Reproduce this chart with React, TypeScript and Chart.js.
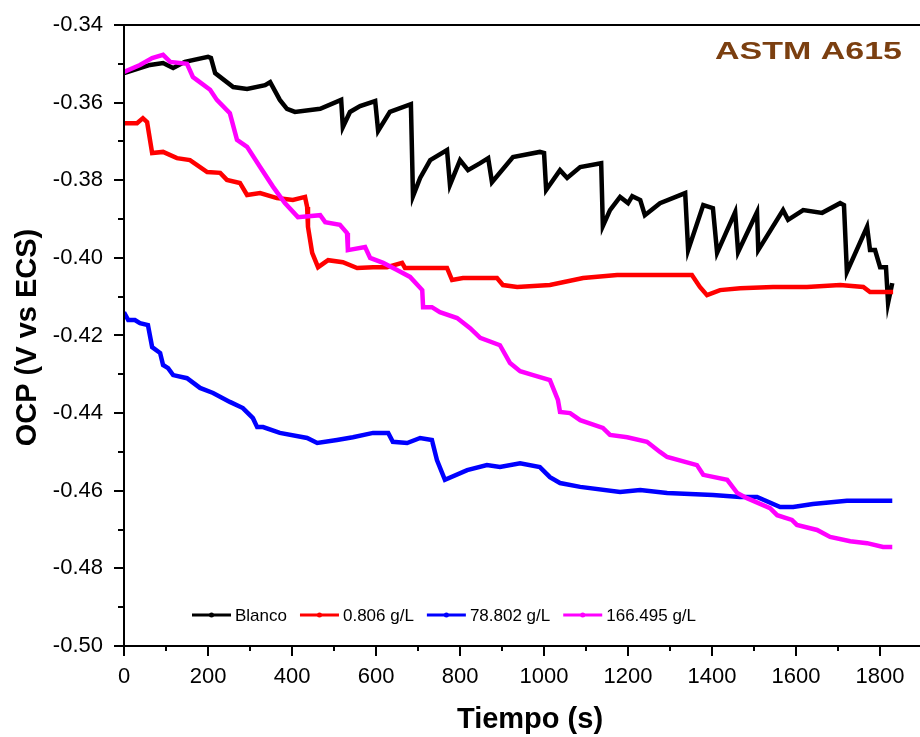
import { useEffect, useRef } from "react";
import { Chart, registerables } from "chart.js";

Chart.register(...registerables);

const FONT = "'Liberation Sans', Arial, Helvetica, sans-serif";

// Axis ranges and tick marks
const X_MIN = 0;
const X_MAX = 1895;
const Y_MIN = -0.5;
const Y_MAX = -0.34;
const X_TICKS = [0, 200, 400, 600, 800, 1000, 1200, 1400, 1600, 1800];
const Y_TICKS = [-0.5, -0.48, -0.46, -0.44, -0.42, -0.4, -0.38, -0.36, -0.34];

const X_TITLE = "Tiempo (s)";
const Y_TITLE = "OCP (V vs ECS)";
const TAG = "ASTM A615";

const SERIES_LABELS = ["Blanco", "0.806 g/L", "78.802 g/L", "166.495 g/L"];
const SERIES_COLORS = ["#000000", "#ff0000", "#0000ff", "#ff00ff"];

// Blanco (time in s, potential in V)
const BLANCO_T = [0, 62, 93, 117, 145, 200, 207, 217, 260, 293, 336, 348, 371, 388, 407, 467, 517, 521, 538, 562, 598, 605, 633, 683, 688, 705, 729, 769, 776, 800, 819, 848, 867, 876, 926, 990, 1000, 1005, 1038, 1055, 1086, 1136, 1140, 1157, 1181, 1200, 1210, 1229, 1240, 1276, 1336, 1343, 1379, 1402, 1412, 1455, 1462, 1507, 1510, 1569, 1581, 1617, 1662, 1705, 1714, 1721, 1769, 1776, 1788, 1800, 1814, 1819, 1829];
const BLANCO_V = [-0.3524, -0.3503, -0.3498, -0.3511, -0.3495, -0.3482, -0.3485, -0.3524, -0.356, -0.3565, -0.3555, -0.3547, -0.3593, -0.3616, -0.3624, -0.3616, -0.3593, -0.3663, -0.3624, -0.3609, -0.3596, -0.3673, -0.3624, -0.3604, -0.3841, -0.3794, -0.3748, -0.3722, -0.3812, -0.3748, -0.3774, -0.3756, -0.3743, -0.3805, -0.374, -0.3727, -0.373, -0.3825, -0.3774, -0.3794, -0.3766, -0.3756, -0.3918, -0.3877, -0.3843, -0.3859, -0.3841, -0.3851, -0.389, -0.3859, -0.3833, -0.398, -0.3864, -0.3872, -0.3987, -0.3882, -0.3985, -0.3882, -0.398, -0.3877, -0.3902, -0.3877, -0.3884, -0.3859, -0.3864, -0.4036, -0.392, -0.398, -0.398, -0.4024, -0.4024, -0.4116, -0.4065];

// 0.806 g/L
const C1_T = [0, 31, 45, 55, 67, 93, 126, 157, 198, 229, 245, 276, 293, 324, 364, 402, 431, 436, 438, 448, 462, 486, 521, 555, 593, 626, 662, 669, 729, 769, 781, 807, 888, 902, 936, 1014, 1093, 1174, 1352, 1371, 1388, 1419, 1467, 1545, 1626, 1705, 1760, 1776, 1831];
const C1_V = [-0.3653, -0.3653, -0.364, -0.365, -0.373, -0.3727, -0.3743, -0.3748, -0.3779, -0.3781, -0.3799, -0.3807, -0.3838, -0.3833, -0.3846, -0.3851, -0.3843, -0.3869, -0.392, -0.3987, -0.4024, -0.4006, -0.4011, -0.4026, -0.4024, -0.4024, -0.4013, -0.4026, -0.4026, -0.4026, -0.4057, -0.4052, -0.4052, -0.407, -0.4075, -0.407, -0.4052, -0.4044, -0.4044, -0.4075, -0.4096, -0.4083, -0.4078, -0.4075, -0.4075, -0.407, -0.4075, -0.4088, -0.4088];

// 78.802 g/L
const C2_T = [0, 10, 26, 38, 57, 67, 86, 93, 105, 117, 150, 181, 212, 252, 283, 307, 317, 331, 371, 436, 460, 507, 545, 593, 629, 640, 674, 705, 733, 745, 764, 817, 864, 895, 943, 990, 1014, 1038, 1086, 1181, 1229, 1293, 1402, 1467, 1507, 1562, 1593, 1640, 1721, 1829];
const C2_V = [-0.414, -0.416, -0.416, -0.4168, -0.4173, -0.423, -0.4245, -0.4276, -0.4284, -0.4302, -0.431, -0.4335, -0.4348, -0.4371, -0.4387, -0.4413, -0.4436, -0.4436, -0.4451, -0.4464, -0.4477, -0.4469, -0.4462, -0.4451, -0.4451, -0.4474, -0.4477, -0.4464, -0.4469, -0.4521, -0.4572, -0.4547, -0.4534, -0.4539, -0.4529, -0.4539, -0.4565, -0.458, -0.459, -0.4603, -0.4598, -0.4606, -0.4611, -0.4616, -0.4616, -0.4642, -0.4642, -0.4634, -0.4626, -0.4626];

// 166.495 g/L
const C3_T = [0, 38, 67, 93, 110, 150, 164, 174, 205, 221, 252, 269, 293, 324, 355, 383, 414, 467, 479, 514, 531, 533, 574, 586, 617, 650, 681, 710, 712, 733, 752, 793, 824, 848, 895, 919, 943, 974, 1014, 1033, 1038, 1062, 1086, 1140, 1157, 1198, 1245, 1276, 1293, 1364, 1379, 1436, 1460, 1483, 1538, 1555, 1590, 1602, 1650, 1681, 1729, 1769, 1807, 1829];
const C3_V = [-0.3521, -0.3503, -0.3485, -0.3477, -0.3495, -0.35, -0.3534, -0.3542, -0.3567, -0.3593, -0.3627, -0.3696, -0.3714, -0.3766, -0.3817, -0.3859, -0.3895, -0.389, -0.3908, -0.3915, -0.3936, -0.398, -0.3972, -0.4, -0.4013, -0.4031, -0.4049, -0.4083, -0.4127, -0.4127, -0.414, -0.4155, -0.4181, -0.4206, -0.4225, -0.4271, -0.4292, -0.4302, -0.4315, -0.4366, -0.4397, -0.44, -0.4418, -0.4438, -0.4456, -0.4462, -0.4474, -0.45, -0.4513, -0.4534, -0.4559, -0.4572, -0.4606, -0.4619, -0.4645, -0.4663, -0.4675, -0.4688, -0.4701, -0.4719, -0.473, -0.4735, -0.4745, -0.4745];

const SERIES_T = [BLANCO_T, C1_T, C2_T, C3_T];
const SERIES_V = [BLANCO_V, C1_V, C2_V, C3_V];
// later series are painted on top
const SERIES_ORDER = [3, 2, 1, 0];

const zip = (t: number[], v: number[]) => t.map((x, i) => ({ x, y: v[i] }));

const midpoints = (ticks: number[]) =>
  ticks.slice(0, -1).map((v, i) => (v + ticks[i + 1]) / 2);

// Frame, tick marks, titles, legend and label tag
const decorPlugin = {
  id: "decor",
  afterDraw(chart: any) {
    const { ctx, chartArea: a, scales } = chart;
    const xs = scales.x;
    const ys = scales.y;
    ctx.save();
    ctx.strokeStyle = "#000";
    ctx.lineWidth = 2;
    ctx.lineCap = "butt";

    ctx.beginPath();
    ctx.moveTo(a.left, a.top);
    ctx.lineTo(a.right, a.top);
    ctx.moveTo(a.left, a.top - 1);
    ctx.lineTo(a.left, a.bottom + 1);
    ctx.moveTo(a.left - 1, a.bottom);
    ctx.lineTo(a.right, a.bottom);
    ctx.stroke();

    // x ticks
    ctx.beginPath();
    X_TICKS.forEach((v) => {
      const px = Math.round(xs.getPixelForValue(v));
      ctx.moveTo(px, a.bottom);
      ctx.lineTo(px, a.bottom + 10);
    });
    midpoints([...X_TICKS, 2000]).forEach((v) => {
      if (v > X_MAX) return;
      const px = Math.round(xs.getPixelForValue(v));
      ctx.moveTo(px, a.bottom);
      ctx.lineTo(px, a.bottom + 5);
    });
    // y ticks
    Y_TICKS.forEach((v) => {
      const py = Math.round(ys.getPixelForValue(v));
      ctx.moveTo(a.left, py);
      ctx.lineTo(a.left - 10, py);
    });
    midpoints(Y_TICKS).forEach((v) => {
      const py = Math.round(ys.getPixelForValue(v));
      ctx.moveTo(a.left, py);
      ctx.lineTo(a.left - 6, py);
    });
    ctx.stroke();

    // axis titles
    ctx.fillStyle = "#000";
    ctx.font = `bold 29px ${FONT}`;
    ctx.textAlign = "center";
    ctx.textBaseline = "middle";
    ctx.fillText(X_TITLE, (a.left + a.right) / 2 + 8, 720);
    ctx.save();
    ctx.translate(28, (a.top + a.bottom) / 2 + 2);
    ctx.rotate(-Math.PI / 2);
    ctx.fillText(Y_TITLE, 0, 0);
    ctx.restore();

    // legend
    ctx.font = `17px ${FONT}`;
    ctx.textAlign = "left";
    ctx.textBaseline = "middle";
    let lx = a.left + 68;
    const ly = a.bottom - 31;
    SERIES_LABELS.forEach((label, i) => {
      const c = SERIES_COLORS[i];
      ctx.strokeStyle = c;
      ctx.fillStyle = c;
      ctx.lineWidth = 3;
      ctx.beginPath();
      ctx.moveTo(lx, ly);
      ctx.lineTo(lx + 39, ly);
      ctx.stroke();
      ctx.beginPath();
      ctx.arc(lx + 19.5, ly, 2.5, 0, Math.PI * 2);
      ctx.fill();
      ctx.fillStyle = "#000";
      ctx.fillText(label, lx + 43, ly + 1);
      lx += 43 + ctx.measureText(label).width + 13;
    });

    // material tag
    ctx.font = `bold 24px ${FONT}`;
    ctx.fillStyle = "#7b3f10";
    ctx.textAlign = "left";
    ctx.textBaseline = "alphabetic";
    const w = ctx.measureText(TAG).width;
    const target = 187;
    ctx.translate(902 - target, 59);
    ctx.scale(target / w, 1);
    ctx.fillText(TAG, 0, 0);

    ctx.restore();
  },
};

export default function App() {
  const canvasRef = useRef<HTMLCanvasElement | null>(null);

  useEffect(() => {
    const canvas = canvasRef.current;
    if (!canvas) return;
    const chart = new Chart(canvas, {
      type: "line",
      data: {
        datasets: SERIES_LABELS.map((label, i) => ({
          label,
          data: zip(SERIES_T[i], SERIES_V[i]),
          borderColor: SERIES_COLORS[i],
          backgroundColor: SERIES_COLORS[i],
          borderWidth: 4.5,
          pointRadius: 0,
          tension: 0,
          fill: false,
          order: SERIES_ORDER[i],
        })),
      },
      options: {
        responsive: false,
        animation: false,
        layout: { padding: { top: 25, right: 0, left: 0, bottom: 0 } },
        plugins: {
          legend: { display: false },
          tooltip: { enabled: false },
        },
        scales: {
          x: {
            type: "linear",
            min: X_MIN,
            max: X_MAX,
            grid: { display: false, drawTicks: false },
            border: { display: false },
            ticks: {
              autoSkip: false,
              maxRotation: 0,
              padding: 18,
              color: "#000",
              font: { family: FONT, size: 22 },
              callback: (v: any) => String(v),
            },
            afterBuildTicks: (s: any) => {
              s.ticks = X_TICKS.map((value) => ({ value }));
            },
            afterFit: (s: any) => {
              s.height = 91;
              s.paddingLeft = 0;
              s.paddingRight = 0;
            },
          },
          y: {
            type: "linear",
            min: Y_MIN,
            max: Y_MAX,
            grid: { display: false, drawTicks: false },
            border: { display: false },
            ticks: {
              autoSkip: false,
              padding: 21,
              color: "#000",
              font: { family: FONT, size: 22 },
              callback: (v: any) => Number(v).toFixed(2),
            },
            afterBuildTicks: (s: any) => {
              s.ticks = Y_TICKS.map((value) => ({ value }));
            },
            afterFit: (s: any) => {
              s.width = 124;
              s.paddingTop = 0;
              s.paddingBottom = 0;
            },
          },
        },
      },
      plugins: [decorPlugin],
    });
    return () => chart.destroy();
  }, []);

  return (
    <div style={{ position: "fixed", left: 0, top: 0, width: 920, height: 737, background: "#fff" }}>
      <canvas ref={canvasRef} width={920} height={737} style={{ display: "block" }} />
    </div>
  );
}
